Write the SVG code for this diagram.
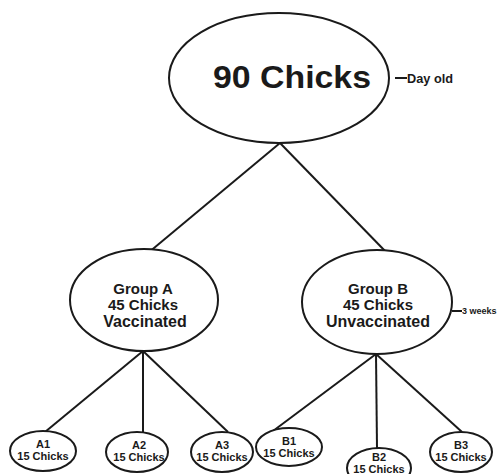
<svg xmlns="http://www.w3.org/2000/svg" width="500" height="474" viewBox="0 0 500 474">
<style>
.n{fill:#fff;stroke:#1a1a1a;stroke-width:2}
.c line{stroke:#1a1a1a;stroke-width:2}
text{font-family:"Liberation Sans",Arial,sans-serif;font-weight:bold;fill:#1a1a1a;text-anchor:middle}
.m{font-size:15px}
.s{font-size:11px}
.l{text-anchor:start}
</style>
<rect width="500" height="474" fill="#fff"/>
<g class="c" id="connectors">
<line x1="280" y1="143" x2="148" y2="253"/>
<line x1="280" y1="143" x2="387" y2="253"/>
<line x1="143" y1="351" x2="45" y2="432"/>
<line x1="143" y1="351" x2="143" y2="432"/>
<line x1="143" y1="351" x2="228" y2="432"/>
<line x1="376" y1="354" x2="273" y2="431"/>
<line x1="376" y1="354" x2="377" y2="448"/>
<line x1="376" y1="354" x2="462" y2="432"/>
<line x1="395" y1="78" x2="407" y2="78"/>
<line x1="452" y1="311" x2="462" y2="311"/>
</g>
<g id="root">
<ellipse class="n" cx="279" cy="78" rx="110" ry="65"/>
<text x="292" y="88" font-size="31" textLength="158" lengthAdjust="spacingAndGlyphs">90 Chicks</text>
</g>
<g id="dayold"><text class="l" x="407" y="83" font-size="12" textLength="46" lengthAdjust="spacingAndGlyphs">Day old</text></g>
<g id="groupA">
<ellipse class="n" cx="144" cy="300" rx="74" ry="51"/>
<text class="m" x="143" y="294">Group A</text>
<text class="m" x="143" y="310">45 Chicks</text>
<text x="145" y="327" font-size="16">Vaccinated</text>
</g>
<g id="groupB">
<ellipse class="n" cx="377" cy="302" rx="75" ry="52"/>
<text class="m" x="378" y="294">Group B</text>
<text class="m" x="378" y="310">45 Chicks</text>
<text x="378" y="327" font-size="16">Unvaccinated</text>
</g>
<g id="weeks"><text class="l" x="462" y="314" font-size="9">3 weeks</text></g>
<g id="A1"><ellipse class="n" cx="43" cy="451" rx="33" ry="20"/><text class="s" x="43" y="448">A1</text><text class="s" x="43" y="460">15 Chicks</text></g>
<g id="A2"><ellipse class="n" cx="137" cy="452" rx="31" ry="20"/><text class="s" x="139" y="449">A2</text><text class="s" x="139" y="461">15 Chicks</text></g>
<g id="A3"><ellipse class="n" cx="222" cy="452" rx="31" ry="20"/><text class="s" x="222" y="449">A3</text><text class="s" x="222" y="461">15 Chicks</text></g>
<g id="B1"><ellipse class="n" cx="289" cy="447" rx="33" ry="19"/><text class="s" x="289" y="445">B1</text><text class="s" x="289" y="457">15 Chicks</text></g>
<g id="B2"><ellipse class="n" cx="379" cy="468" rx="32" ry="20"/><text class="s" x="379" y="461">B2</text><text class="s" x="379" y="473">15 Chicks</text></g>
<g id="B3"><ellipse class="n" cx="461" cy="452" rx="31" ry="20"/><text class="s" x="461" y="449">B3</text><text class="s" x="461" y="461">15 Chicks</text></g>
</svg>
